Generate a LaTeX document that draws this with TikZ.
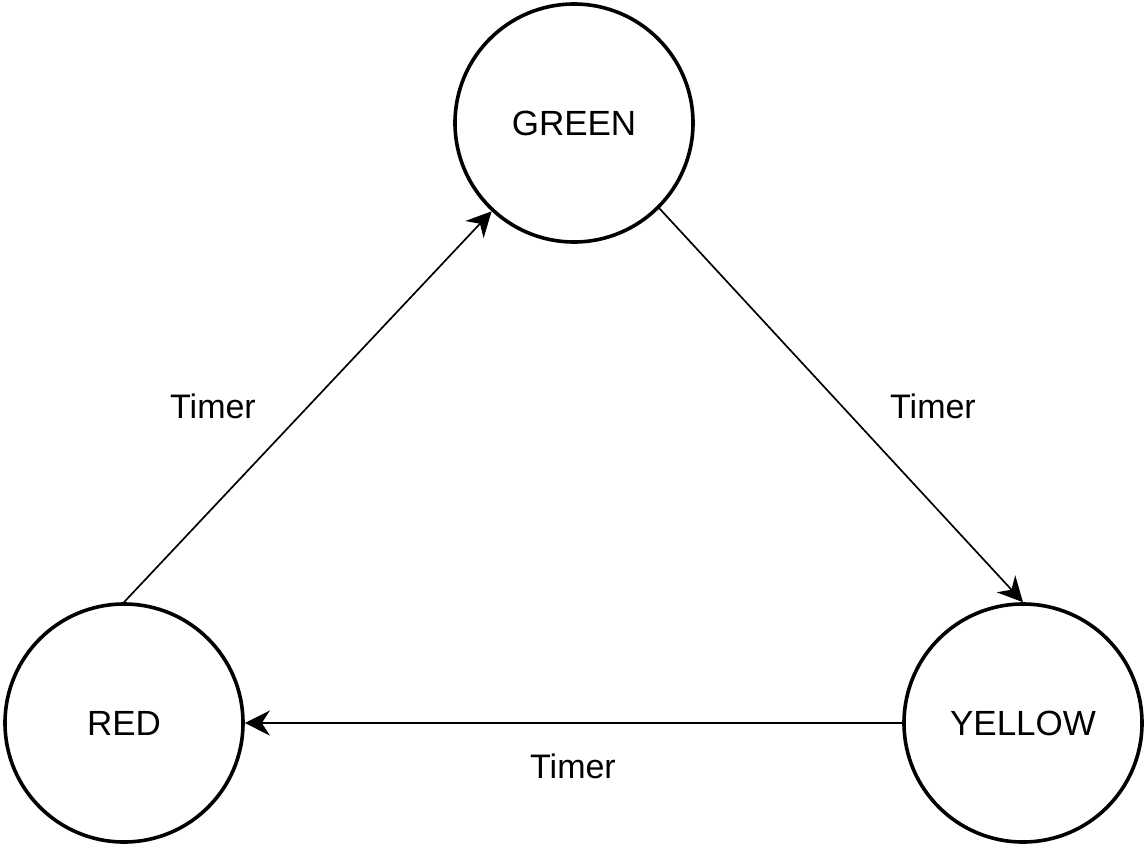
\documentclass[tikz,border=0pt]{standalone}
\usepackage{fontspec}
\setmainfont{Liberation Sans}
\usetikzlibrary{arrows.meta}
\begin{document}
\begin{tikzpicture}[x=1pt,y=-1pt,
 state/.style={circle,draw,line width=3.6pt,minimum size=238pt,inner sep=0pt,font=\fontsize{35}{40}\selectfont},
 trans/.style={line width=1.7pt,-{Stealth[length=25pt,width=25pt,inset=8pt]}},
 lbl/.style={font=\fontsize{34}{40}\selectfont,inner sep=0pt}]
\useasboundingbox (0,0) rectangle (1146,846);
\node[state] (green) at (574,123) {GREEN};
\node[state] (red) at (124,723) {RED};
\node[state] (yellow) at (1023,723) {YELLOW};
\draw[trans] (red.north) -- (green.227);
\draw[trans] (green.315) -- (yellow.north);
\draw[trans] (yellow.west) -- (red.east);
\node[lbl] (l1) at (213,406) {Timer};
\node[lbl] (l2) at (933,406) {Timer};
\node[lbl] (l3) at (573,766) {Timer};
\end{tikzpicture}
\end{document}
